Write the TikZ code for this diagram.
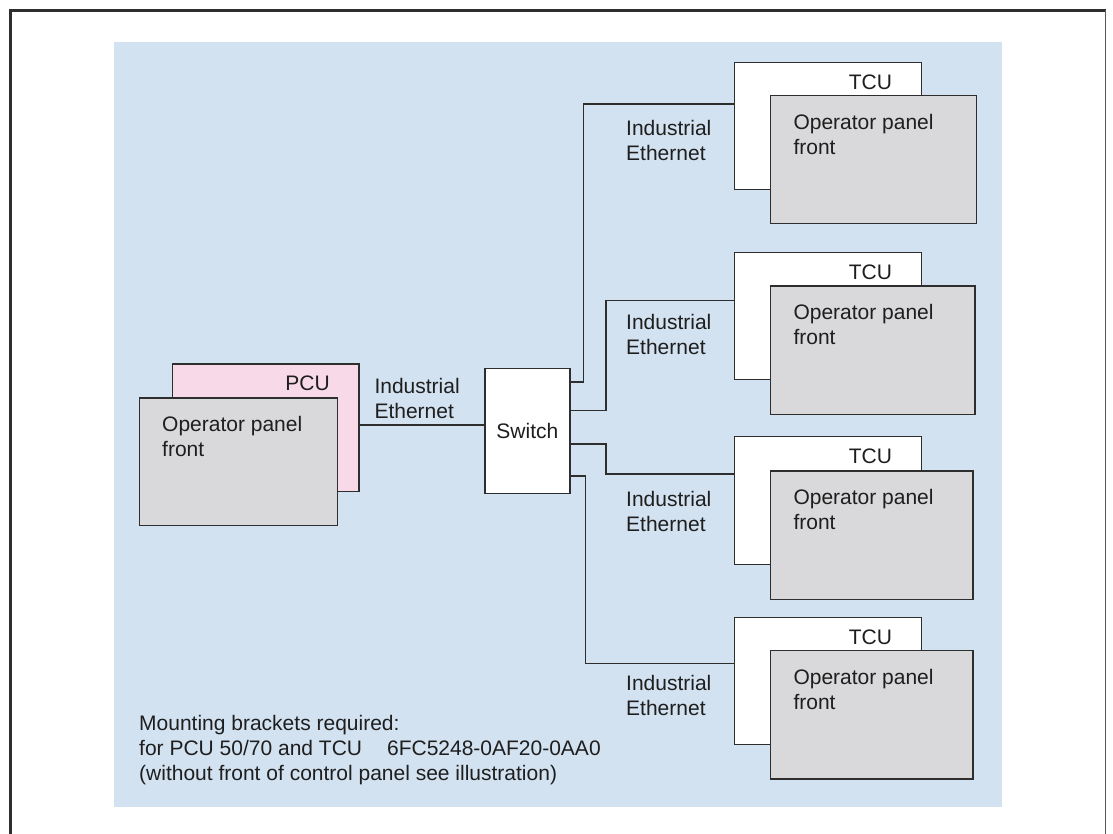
\documentclass[tikz,border=0pt]{standalone}
\usepackage{fontspec}
\setmainfont{Liberation Sans}
\definecolor{bgblue}{HTML}{D3E2F1}
\definecolor{pcupink}{HTML}{F8D9E8}
\definecolor{panelgray}{HTML}{D9D9DB}
\definecolor{linec}{HTML}{2E2E2E}
\definecolor{textc}{HTML}{1E1E1E}
\begin{document}
\begin{tikzpicture}[x=1pt,y=-1pt,
  unit/.style={draw=linec, line width=1.2pt, inner sep=0pt, anchor=north west},
  wire/.style={draw=linec, line width=1.2pt},
  lbl/.style={inner sep=0pt, text=textc, align=left, font=\fontsize{21}{25}\selectfont},
  whitebox/.style={unit, fill=white, minimum width=186.5pt, minimum height=127.5pt},
  graybox/.style={unit, fill=panelgray, minimum height=128.3pt}]
\useasboundingbox (0,0) rectangle (1113,834);
\fill[white] (0,0) rectangle (1113,834);
% frame
\draw[draw=linec, line width=2.2pt] (10.5,900) -- (10.5,10.5) -- (1105.5,10.5);
\draw[draw=linec!80, line width=1.2pt] (1105.5,10.5) -- (1105.5,900);
% blue area
\fill[bgblue] (114,42) rectangle (1002,806.5);
% PCU
\node[unit, fill=pcupink, minimum width=186.6pt, minimum height=127.7pt] (pcu) at (171.7,363.3) {};
\node[graybox, minimum width=197.7pt, minimum height=127.7pt] (pcufront) at (139,397.3) {};
\node[lbl, anchor=north east] (pcut) at (330,375.5) {PCU};
\node[lbl, anchor=north west] (pcuft) at (162,416.5) {Operator panel\\front};
% switch
\node[unit, fill=white, minimum width=85pt, minimum height=125.3pt] (sw) at (484.3,367.7) {};
\node[lbl, anchor=center] (swt) at (sw.center) {Switch};
% TCUs
\node[whitebox] (tcu1) at (734,61.7) {};
\node[whitebox] (tcu2) at (734,251.7) {};
\node[whitebox] (tcu3) at (734,436) {};
\node[whitebox] (tcu4) at (734,616.7) {};
\node[graybox, minimum width=206pt] (op1) at (770,95) {};
\node[graybox, minimum width=204.3pt] (op2) at (770,285.3) {};
\node[graybox, minimum width=202.3pt] (op3) at (770,470.3) {};
\node[graybox, minimum width=202.3pt] (op4) at (770,650) {};
\foreach \i in {1,2,3,4}{
  \node[lbl, anchor=north east] (tcut\i) at ([xshift=-29.5pt,yshift=-12.5pt]tcu\i.north east) {TCU};
  \node[lbl, anchor=north west] (opt\i) at ([xshift=23.3pt,yshift=-19pt]op\i.north west) {Operator panel\\front};
}
% wires
\draw[wire] (pcu.east |- 0,425) -- (sw.west |- 0,425);
\draw[wire] (sw.east |- 0,382) -| (583.7,104) -- (tcu1.west |- 0,104);
\draw[wire] (sw.east |- 0,410.7) -| (606,300.5) -- (tcu2.west |- 0,300.5);
\draw[wire] (sw.east |- 0,444) -| (606,474) -- (tcu3.west |- 0,474);
\draw[wire] (sw.east |- 0,476) -| (585.3,663.7) -- (tcu4.west |- 0,663.7);
% wire labels
\node[lbl, anchor=north west] (ie0) at (374.3,378.5) {Industrial\\Ethernet};
\node[lbl, anchor=north west] (ie1) at (626,119.8) {Industrial\\Ethernet};
\node[lbl, anchor=north west] (ie2) at (626,314.5) {Industrial\\Ethernet};
\node[lbl, anchor=north west] (ie3) at (626,491.5) {Industrial\\Ethernet};
\node[lbl, anchor=north west] (ie4) at (626,675) {Industrial\\Ethernet};
% note
\node[lbl, anchor=north west] (note) at (139,715) {Mounting brackets required:\\for PCU 50/70 and TCU\hspace{25pt}6FC5248-0AF20-0AA0\\(without front of control panel see illustration)};
\end{tikzpicture}
\end{document}
